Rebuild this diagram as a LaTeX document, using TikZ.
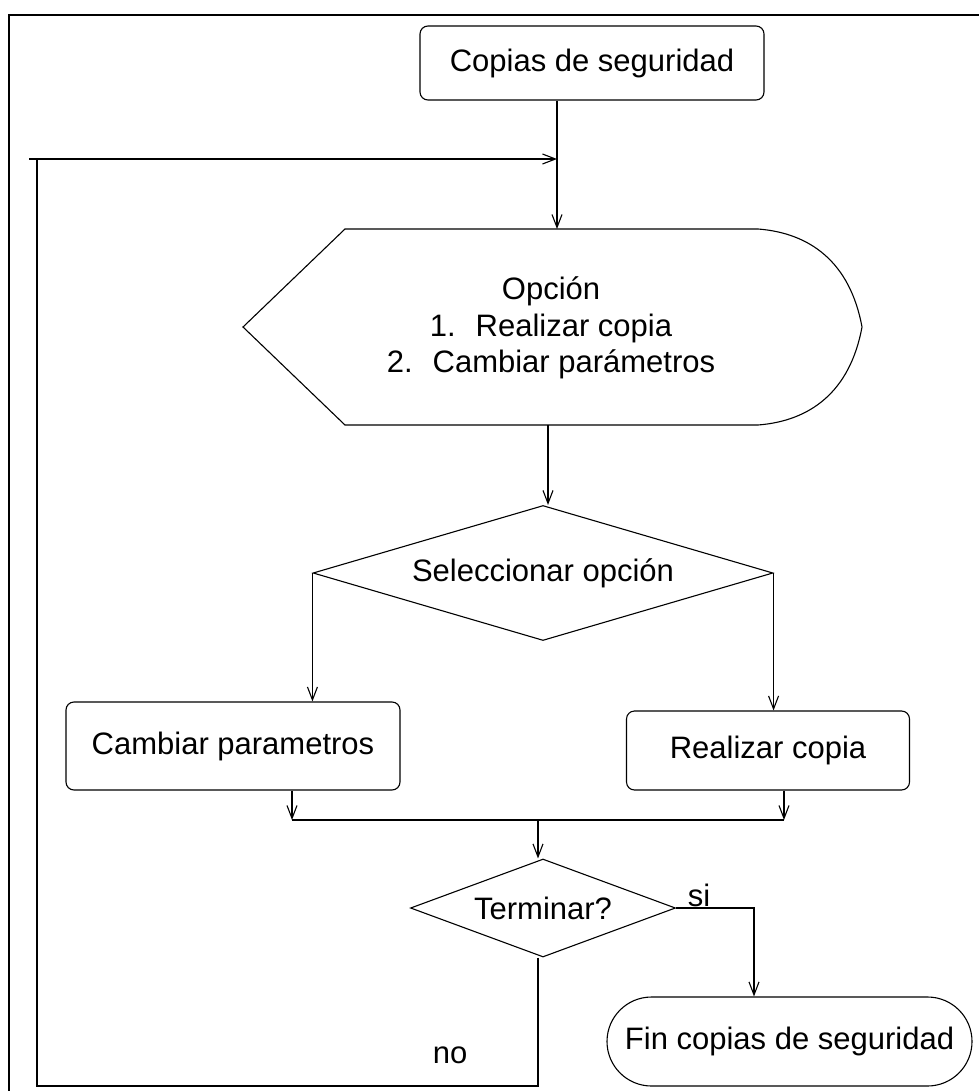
\documentclass[tikz,border=0pt]{standalone}
\usepackage{fontspec}
\setmainfont{Liberation Sans}
\usetikzlibrary{arrows.meta}
\usetikzlibrary{shapes.geometric}
\usetikzlibrary{shapes.misc}

\begin{document}
\begin{tikzpicture}[x=1pt,y=-1pt,
	font=\fontsize{31}{36.5}\selectfont,
	line width=1.1pt,
	box/.style={draw,rounded corners=8pt,inner sep=0pt},
	choice/.style={draw,diamond,inner sep=0pt},
	endbox/.style={draw,rounded rectangle,inner sep=0pt},
	arr/.style={-{Straight Barb[length=13pt,width=10pt]}},
	frame/.style={line width=2.2pt}]
\useasboundingbox (0,0) rectangle (979,1091);

	% frame
\draw[frame] (9,1091) -- (9,15) -- (979,15);

	% steps
\path
	(592,63) node[box,minimum width=344pt,minimum height=74pt] (start) {Copias de seguridad}
	(551,328) node[align=center] (opt) {Opción\\1.\hspace{20pt}Realizar copia\\2.\hspace{20pt}Cambiar parámetros}
	(543,573) node[choice,shape aspect=3.4,minimum width=460pt,minimum height=135pt] (sel) {Seleccionar opción}
	(233,746) node[box,minimum width=334pt,minimum height=88pt] (cam) {Cambiar parametros}
	(768,750.5) node[box,minimum width=283pt,minimum height=79pt] (real) {Realizar copia}
	(543,908) node[choice,shape aspect=2.7,minimum width=265pt,minimum height=98pt] (term) {Terminar?}
	(789.5,1041.5) node[endbox,minimum width=365pt,minimum height=89pt] (fin) {Fin copias de seguridad}
	;

	% display outline
\draw (243,327) -- (345,229) -- (758,229)
	.. controls (810,233) and (850,262) .. (862,327)
	.. controls (850,392) and (810,421) .. (758,425)
	-- (345,425) -- cycle;

\path
	(557,229) coordinate (optN)
	(548,425) coordinate (optS)
	(292,820) coordinate (mL)
	(784,820) coordinate (mR)
	(538,820) coordinate (mC)
	(754,908) coordinate (siC)
	(37,1086) coordinate (loopB)
	(29,159) coordinate (loopT)
	;

	% links
\draw[arr] (start.south -| optN) -- (optN);
\draw[arr] (optS) -- (optS |- sel.north);
\draw[arr] (sel.west) -- (sel.west |- cam.north);
\draw[arr] (sel.east) -- (sel.east |- real.north);
\draw[arr] (mL |- cam.south) -- (mL);
\draw[arr] (mR |- real.south) -- (mR);
\draw (mL) -- (mR);
\draw[arr] (mC) -- (mC |- term.north);
\draw[arr] (term.east) -- (siC) -- (siC |- fin.north);
\draw (mC |- term.south) -- (mC |- loopB) -- (loopB) -- (loopB |- loopT);
\draw[arr] (loopT) -- (loopT -| optN);

\node[anchor=base] (si) at (699,906) {si};
\node[anchor=base] (no) at (450,1063) {no};
\end{tikzpicture}
\end{document}
